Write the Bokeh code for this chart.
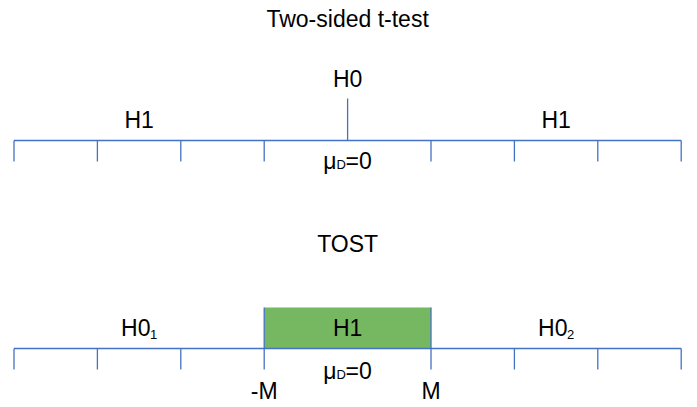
from bokeh.plotting import figure
from bokeh.models import Range1d
from bokeh.embed import file_html
from bokeh.resources import INLINE
from bokeh.core.properties import value

# ---- data ----
tick_values = [-4, -3, -2, -1, 0, 1, 2, 3, 4]
margin = 1                       # equivalence bound M
top_labels = ["H1", "H0", "H1"]
top_label_x = [-2.5, 0, 2.5]
bottom_labels = ["H0", "H1", "H0"]
bottom_subs = ["1", "", "2"]
bottom_label_x = [-2.5, 0, 2.5]
bound_labels = ["-M", "M"]
bound_x = [-margin, margin]
titles = ["Two-sided t-test", "TOST"]

# ---- style ----
LINE = "#4472C4"
GREEN = "#76B862"
FONT = value("Liberation Sans")
FS = "23px"
LW = 1.3

# layout levels (pixels from top)
Y_TITLE1, Y_H0, Y_H1, Y_AX1, Y_TICK1, Y_CTICK = 18, 78, 119, 140, 161, 98
Y_MU1 = 160
Y_TITLE2, Y_BOX, Y_LAB2, Y_AX2, Y_TICK2 = 243, 307, 327, 348, 369
Y_MU2, Y_M = 370, 390

W, H = 697, 407
px_per_unit = 83.4
xmin = tick_values[0] - 13.5 / px_per_unit
xmax = xmin + W / px_per_unit

p = figure(width=W, height=H, x_range=Range1d(xmin, xmax), y_range=Range1d(H, 0),
           output_backend="svg", toolbar_location=None, x_axis_type=None, y_axis_type=None,
           min_border=0, outline_line_color=None)
p.grid.visible = False

lo, hi = tick_values[0], tick_values[-1]


def txt(x, y, t, size=FS, align="center", xoff=0):
    p.text(x=x, y=y, text=t, text_align=align, text_baseline="middle", x_offset=xoff,
           text_font=FONT, text_font_size=size, text_color="black")


# ---- top panel ----
p.segment(x0=[lo], y0=[Y_AX1], x1=[hi], y1=[Y_AX1], line_color=LINE, line_width=LW)
tx = [t for t in tick_values if t != 0]
p.segment(x0=tx, y0=[Y_AX1] * len(tx), x1=tx, y1=[Y_TICK1] * len(tx), line_color=LINE, line_width=LW)
p.segment(x0=[0], y0=[Y_CTICK], x1=[0], y1=[Y_AX1], line_color=LINE, line_width=LW)

txt([0], [Y_TITLE1], [titles[0]])
txt([top_label_x[1]], [Y_H0], [top_labels[1]])
txt([top_label_x[0], top_label_x[2]], [Y_H1, Y_H1], [top_labels[0], top_labels[2]])


def mu_label(y):
    txt([0], [y], ["μ"], align="right", xoff=-11)
    txt([0], [y + 3.5], ["D"], size="13px", align="left", xoff=-11)
    txt([0], [y], ["=0"], align="left", xoff=-2)


mu_label(Y_MU1)

# ---- bottom panel ----
p.quad(left=[-margin], right=[margin], top=[Y_BOX], bottom=[Y_AX2], fill_color=GREEN, line_color=None)
p.segment(x0=[lo], y0=[Y_AX2], x1=[hi], y1=[Y_AX2], line_color=LINE, line_width=LW)
bx = [t for t in tick_values if abs(t) != margin and t != 0]
p.segment(x0=bx, y0=[Y_AX2] * len(bx), x1=bx, y1=[Y_TICK2] * len(bx), line_color=LINE, line_width=LW)
p.segment(x0=bound_x, y0=[Y_BOX] * 2, x1=bound_x, y1=[Y_TICK2] * 2, line_color=LINE, line_width=LW)

txt([0], [Y_TITLE2], [titles[1]])
for lx, lab, sub in zip(bottom_label_x, bottom_labels, bottom_subs):
    if sub:
        txt([lx], [Y_LAB2], [lab], align="left", xoff=-18)
        txt([lx], [Y_LAB2 + 6.5], [sub], size="13px", align="left", xoff=11)
    else:
        txt([lx], [Y_LAB2], [lab])

mu_label(Y_MU2)
txt(bound_x, [Y_M, Y_M], bound_labels)

open("out.html", "w").write(file_html(p, INLINE))
